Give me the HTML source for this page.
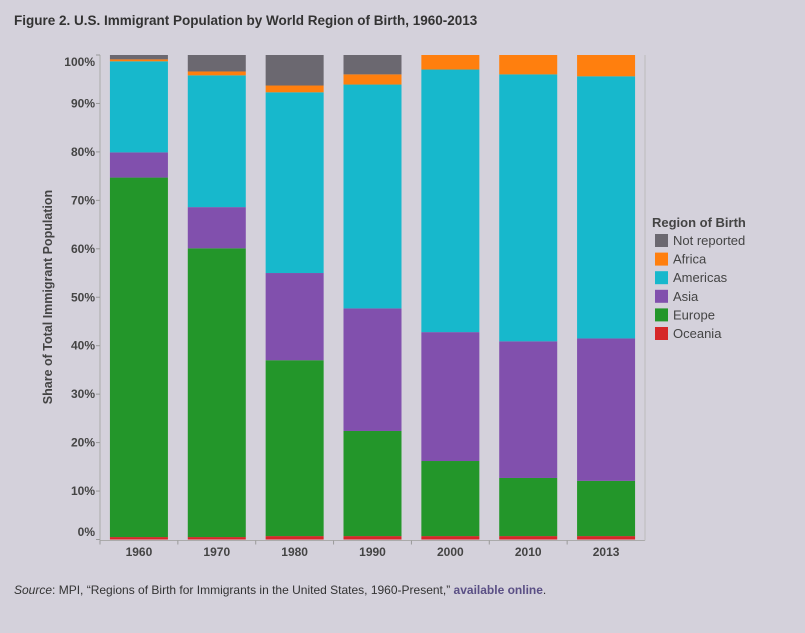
<!DOCTYPE html>
<html><head><meta charset="utf-8"><style>
body{margin:0;background:#d4d1db;}
#wrap{position:relative;width:805px;height:633px;background:#d4d1db;font-family:"Liberation Sans",sans-serif;}
#title{position:absolute;left:14px;top:13px;font-size:13.5px;font-weight:bold;color:#333;}
#src{position:absolute;left:14px;top:583px;font-size:12px;color:#333;}
#src a{color:#5a4f85;font-weight:bold;text-decoration:none;}
</style></head><body>
<div id="wrap">
<div id="title">Figure 2. U.S. Immigrant Population by World Region of Birth, 1960-2013</div>
<svg id="chart" width="805" height="633" style="position:absolute;left:0;top:0"></svg>
<div id="src"><i>Source</i>: MPI, “Regions of Birth for Immigrants in the United States, 1960-Present,” <a>available online</a>.</div>
</div>
<script>
const categories=["1960","1970","1980","1990","2000","2010","2013"];
const oceania=[0.5,0.5,0.7,0.7,0.7,0.7,0.7];
const europe=[74.2,59.6,36.3,21.7,15.5,12.0,11.4];
const asia=[5.2,8.5,18.0,25.3,26.6,28.2,29.4];
const americas=[18.8,27.2,37.3,46.2,54.2,55.1,54.1];
const africa=[0.4,0.8,1.4,2.1,3.0,4.0,4.4];
const notReported=[0.9,3.4,6.3,4.0,0,0,0];
const yTicks=[0,10,20,30,40,50,60,70,80,90,100];
const seriesNames=["Oceania","Europe","Asia","Americas","Africa","Not reported"];
const seriesData=[oceania,europe,asia,americas,africa,notReported];
const colors=["#d62728","#23962a","#8150ad","#17b8cc","#ff7f0e","#6b6870"];
const NS="http://www.w3.org/2000/svg";
const svg=document.getElementById('chart');
const x0=100,x1=645,y0=539.5,y1=55;
const y=v=>y0-(v/100)*(y0-y1);
const step=(x1-x0)/categories.length;
const bw=58;
const xc=i=>x0+step*(i+0.5);
function mk(t,a){const e=document.createElementNS(NS,t);for(const k in a)e.setAttribute(k,a[k]);svg.appendChild(e);return e;}
// axes
let e=mk('line',{x1:x0,y1:y1,x2:x0,y2:y0+1,stroke:'#aaa'});


e=mk('line',{x1:x0,y1:y0+1,x2:x1,y2:y0+1,stroke:'#aaa'});


e=mk('line',{x1:x1,y1:y1,x2:x1,y2:y0+1,stroke:'#bbb'});


yTicks.forEach(t=>{
  let yy=y(t);
  let l=mk('line',{x1:x0-4,y1:yy,x2:x0,y2:yy,stroke:'#999'});
  
  
  let ly=Math.min(Math.max(yy,62),532)+4;
  let tx=mk('text',{x:x0-5,y:ly,'text-anchor':'end','font-size':12,'font-weight':'bold',fill:'#444'});
  tx.textContent=t+'%';
  
  
});
categories.forEach((c,i)=>{
  let cum=0;
  seriesData.forEach((s,j)=>{
    const v=s[i];if(v<=0){return;}
    const r=mk('rect',{x:xc(i)-bw/2,y:y(cum+v),width:bw,height:y(cum)-y(cum+v),fill:colors[j]});
    
    
    cum+=v;
  });
  let l=mk('line',{x1:x0+step*i,y1:y0+1,x2:x0+step*i,y2:y0+5,stroke:'#999'});
  
  
  let t=mk('text',{x:xc(i),y:556,'text-anchor':'middle','font-size':12,'font-weight':'bold',fill:'#444'});
  t.textContent=c;
  
  
});
let yt=mk('text',{x:52,y:297,'text-anchor':'middle','font-size':12.5,'font-weight':'bold',fill:'#444',transform:'rotate(-90 52 297)'});
yt.textContent='Share of Total Immigrant Population';


let lt=mk('text',{x:652,y:227,'font-size':13,'font-weight':'bold',fill:'#444'});
lt.textContent='Region of Birth';


for(let k=0;k<6;k++){
  const j=5-k;const ly=234+k*18.6;
  const r=mk('rect',{x:655,y:ly,width:13,height:13,fill:colors[j]});
  
  
  const t=mk('text',{x:673,y:ly+11,'font-size':13,fill:'#444'});
  t.textContent=seriesNames[j];
  
  
}
</script>
</body></html>
